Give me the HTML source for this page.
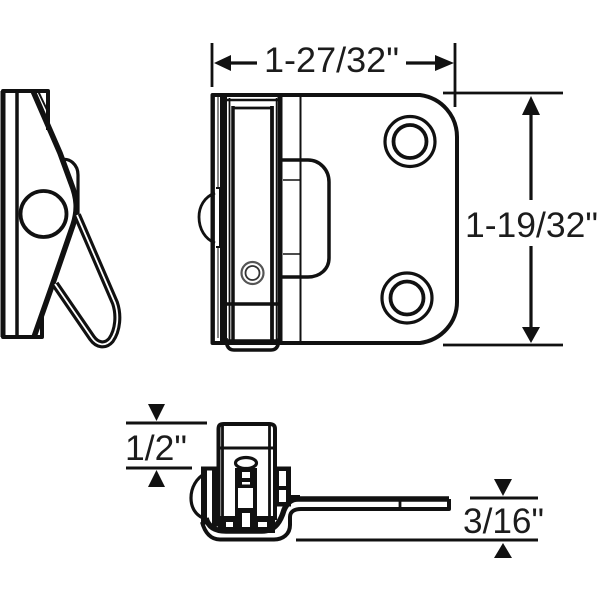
<!DOCTYPE html>
<html><head><meta charset="utf-8"><style>
html,body{margin:0;padding:0;background:#fff;width:600px;height:600px;overflow:hidden}
svg{display:block}
text{font-family:"Liberation Sans",sans-serif;font-size:35px;fill:#1c1c1c}
</style></head><body>
<svg width="600" height="600" viewBox="0 0 600 600" xmlns="http://www.w3.org/2000/svg">
<rect width="600" height="600" fill="#fff"/>
<g fill="none" stroke="#111" stroke-linejoin="round">
<!-- Left view -->
<path d="M48 130V91H3V337H42V314" stroke-width="4"/>
<path d="M3 91V337" stroke-width="5"/>
<path d="M17 91V337" stroke-width="3.500"/>
<path d="M60 160C70 157 78 165 78 175V214" stroke-width="3.200"/>
<path d="M33 91L60 153L71 183C77 198 78 210 73 225L53 283L34 337" stroke-width="5.500"/>
<path d="M38 91L48 112" stroke-width="2"/>
<circle cx="43.500" cy="214" r="23" stroke-width="3.800"/>
<path d="M77 215L115 303C119 315 118 330 111 340C105 347 97 345 92 338L55 284" stroke-width="8"/>
<path d="M77 215L115 303C119 315 118 330 111 340C105 347 97 345 92 338L55 284" stroke="#fff" stroke-width="1.800"/>
<!-- Main view plate -->
<path d="M212.500 95H420C442 98 457 116 457 137V302C457 322 442 340 420 343H212.500Z" stroke-width="4"/>
<path d="M300.500 95V343" stroke-width="2"/>
<!-- Tab -->
<path d="M280 160H308C320 160 329 170 329 182V258C329 269 320 277 308 277H280" stroke-width="3.500"/>
<path d="M283 180H300M283 254H300" stroke-width="1.500"/>
<!-- Holes -->
<circle cx="410" cy="141.500" r="25" stroke-width="3.200"/>
<circle cx="410" cy="141.500" r="16.500" stroke-width="3.800"/>
<circle cx="407" cy="298" r="25" stroke-width="3.200"/>
<circle cx="407" cy="298" r="16.500" stroke-width="3.800"/>
<!-- Slider verticals -->
<path d="M213 95V343" stroke-width="3.800"/>
<path d="M223.500 95V343" stroke-width="7"/>
<path d="M218 97V188M218 247V338" stroke-width="1"/>
<path d="M229.500 98V342" stroke-width="1.800"/>
<path d="M233 106V342" stroke-width="3.500"/>
<path d="M272 106V342" stroke-width="3.800"/>
<path d="M276.500 98V342" stroke-width="1.500"/>
<path d="M280 95V343" stroke-width="5"/>
<path d="M227 100H279" stroke-width="2.500"/>
<path d="M233 108H273" stroke-width="2.800"/>
<path d="M226 304H278" stroke-width="3.500"/>
<path d="M227 341H278" stroke-width="3.500"/>
<path d="M226 338Q226 350 234 350H271Q279 350 279 338" stroke-width="3.500"/>
<path d="M216 188H220V247H216" stroke-width="2"/>
<path d="M215 193C204 197 199 207 199 217C199 229 205 239 215 243" stroke-width="2.800"/>
<!-- Small pin -->
<circle cx="252.500" cy="273" r="11" stroke="#555" stroke-width="2.200"/>
<circle cx="252.500" cy="273" r="7" stroke="#333" stroke-width="1.800"/>
</g>
<!-- Bottom view solid parts -->
<g fill="#111" stroke="none">
<rect x="201" y="466.500" width="6" height="58"/>
<rect x="201" y="466.500" width="17" height="4"/>
<rect x="212" y="466.500" width="8" height="60"/>
<rect x="275" y="466.500" width="16" height="40"/>
<rect x="235" y="468" width="22" height="60"/>
<rect x="218" y="516" width="57" height="17"/>
</g>
<g fill="#fff" stroke="none">
<rect x="207" y="470.500" width="5" height="37"/>
<rect x="207" y="511.500" width="5" height="3.500"/>
<rect x="279" y="471" width="7" height="15"/>
<rect x="279" y="490" width="7" height="12"/>
<rect x="242" y="472" width="8" height="6"/>
<rect x="242" y="482" width="8" height="2.500"/>
<rect x="238" y="488" width="15" height="20"/>
<rect x="242" y="513" width="8" height="14"/>
<rect x="226" y="522" width="7" height="5"/>
<rect x="258" y="522" width="9" height="5"/>
<rect x="224.500" y="428" width="10.500" height="88"/>
<rect x="257" y="450" width="11.500" height="66"/>
</g>
<g fill="none" stroke="#111" stroke-linejoin="round">
<path d="M206 473C196 478 191 488 191 498C191 508 196 515 203 518" stroke-width="3.200"/>
<path d="M218.500 520V429C218.500 425 220 424 224 424H269C273 424 275 425 275 429V520" stroke-width="4"/>
<path d="M222.500 425V520M269.500 425V520" stroke-width="2.800"/>
<path d="M219 448H273" stroke-width="3"/>
<ellipse cx="246" cy="463" rx="10.500" ry="5.500" fill="#fff" stroke-width="3.200"/>
<!-- Plate and U -->
<path d="M449 499H298C291 499 287 503 284 510C281 520 276 531 262 531H226C214 531 208 526 206 518" stroke-width="5.500"/>
<path d="M290 497H300" stroke-width="4"/>
<path d="M449 499V509H301C294 509 290 512 290 517V525C290 534 283 539.500 274 539.500H220C211 539.500 205 533 202 522" stroke-width="4"/>
<path d="M400 499V509" stroke-width="2.800"/>
<!-- Dim lines -->
<path d="M212 43V87M455 43V107" stroke-width="2.800"/>
<path d="M443 93H563M443 345H563" stroke-width="2.800"/>
<path d="M231 63H257M406 63H436" stroke-width="3.200"/>
<path d="M531 115V200M531 246V327" stroke-width="3.200"/>
<path d="M126 423H207M126 468H192M470 498H538M296 540H538" stroke-width="3"/>
</g>
<g fill="#111" stroke="none">
<path d="M214 63L231 55V71Z"/>
<path d="M454 63L435 55V71Z"/>
<path d="M531 96L522 115H540Z"/>
<path d="M531 343L522 327H540Z"/>
<path d="M156.500 421L148 404H165Z"/>
<path d="M156.500 470L148 487H165Z"/>
<path d="M503 496L494 479H512Z"/>
<path d="M503 543L494 558H512Z"/>
</g>
<text x="264" y="72" textLength="135" lengthAdjust="spacingAndGlyphs">1-27/32"</text>
<text x="465" y="237" textLength="133" lengthAdjust="spacingAndGlyphs">1-19/32"</text>
<text x="125" y="460" textLength="62" lengthAdjust="spacingAndGlyphs">1/2"</text>
<text x="463" y="533" textLength="81" lengthAdjust="spacingAndGlyphs">3/16"</text>
</svg>
</body></html>
